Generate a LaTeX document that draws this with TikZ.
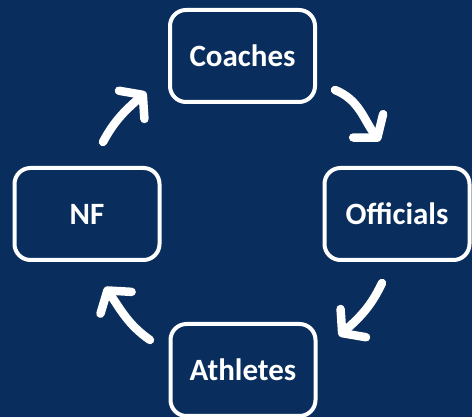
\documentclass[tikz,border=0pt]{standalone}
\usepackage{fontspec}
\setmainfont{Carlito}
\usetikzlibrary{arrows.meta}
\definecolor{navy}{RGB}{9,46,94}
\definecolor{shadowc}{RGB}{4,24,52}
\tikzset{
  box/.style={draw=white, line width=4pt, rounded corners=16pt, minimum width=145pt, minimum height=92pt, inner sep=0pt, text=white, font=\fontsize{31}{34}\selectfont\bfseries},
  flow/.style={draw=white, line width=8.5pt, line cap=round, line join=round, -{Straight Barb[length=15pt, width=38pt, round]}},
  flowshadow/.style={draw=shadowc, opacity=0.5, line width=8.5pt, line cap=round, line join=round, -{Straight Barb[length=15pt, width=38pt, round]}}
}
\begin{document}
\begin{tikzpicture}[x=1pt,y=1pt]
\fill[navy] (0,0) rectangle (472,417);
\useasboundingbox (0,0) rectangle (472,417);
\node[box] (coaches) at (242.5,361) {Coaches};
\node[box] (officials) at (397,203) {Officials};
\node[box] (nf) at (87,203) {NF};
\node[box] (athletes) at (243,47) {Athletes};
% arrow end points
\coordinate (a1s) at (103,275);
\coordinate (a1e) at (146,325);
\coordinate (a2s) at (335,327);
\coordinate (a2e) at (380,276);
\coordinate (a3s) at (382,134);
\coordinate (a3e) at (339,81);
\coordinate (a4s) at (150,77);
\coordinate (a4e) at (105,130);
\begin{scope}[shift={(2,-3)}]
\draw[flowshadow] (a1s) to[out=62,in=222] (a1e);
\draw[flowshadow] (a2s) to[out=-22,in=128] (a2e);
\draw[flowshadow] (a3s) to[out=-115,in=42] (a3e);
\draw[flowshadow] (a4s) to[out=145,in=-55] (a4e);
\end{scope}
\draw[flow] (a1s) to[out=62,in=222] (a1e);
\draw[flow] (a2s) to[out=-22,in=128] (a2e);
\draw[flow] (a3s) to[out=-115,in=42] (a3e);
\draw[flow] (a4s) to[out=145,in=-55] (a4e);
\end{tikzpicture}
\end{document}
